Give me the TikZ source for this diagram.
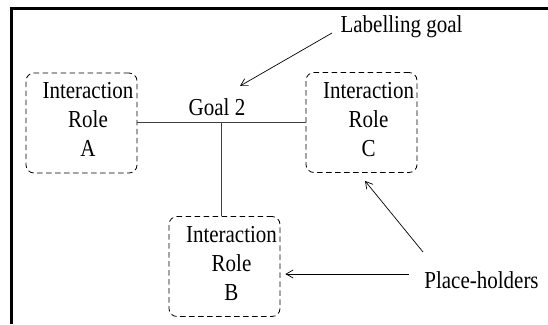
\documentclass[tikz,border=0pt]{standalone}
\usepackage{fontspec}
\usepackage{graphicx}
\setmainfont{Liberation Serif}
\usetikzlibrary{arrows.meta}
\newcommand{\vstretch}[1]{\scalebox{1}[1.16]{#1}}
\newcommand{\rolelines}[1]{\vstretch{\begin{tabular}{@{}c@{}}Interaction\\Role\\#1\end{tabular}}}
\tikzset{
  rolebox/.style={draw, dashed, dash pattern=on 5.5pt off 3.5pt, line width=0.8pt, rounded corners=8pt, minimum width=111pt, minimum height=100pt, inner sep=0pt},
  roletext/.style={align=center, inner sep=0pt, font=\fontsize{21}{25}\selectfont},
  lbl/.style={inner sep=0pt, font=\fontsize{21}{25}\selectfont},
  conn/.style={line width=0.8pt, draw=black!75},
  pointer/.style={line width=0.7pt, -{Straight Barb[length=7pt,width=8pt]}},
}
\begin{document}
\begin{tikzpicture}[x=1pt,y=1pt]
\useasboundingbox (0,0) rectangle (548,324);
% frame
\draw[line width=3pt] (11.3,0) -- (11.3,315.5) -- (548,315.5);
% boxes
\node[rolebox] (A) at (81.5,201) {};
\node[rolebox] (C) at (361.5,201.5) {};
\node[rolebox] (B) at (224.5,57.5) {};
\node[roletext] (tA) at (88,202) {\rolelines{A}};
\node[roletext] (tC) at (368.5,202) {\rolelines{C}};
\node[roletext] (tB) at (231.5,58) {\rolelines{B}};
% goal
\node[lbl] (goal) at (217,217) {\vstretch{Goal 2}};
\coordinate (J) at (221.5,202);
\draw[conn] (A.east |- J) -- (C.west |- J);
\draw[conn] (J) -- (J |- B.north);
% labels
\node[lbl] (lab) at (401.5,297) {\vstretch{Labelling goal}};
\node[lbl] (ph) at (481.5,44) {\vstretch{Place-holders}};
\coordinate (labstart) at (332,291);
\coordinate (labend) at (240,238);
\draw[pointer] (labstart) -- (labend);
\coordinate (ph1) at (409,50);
\draw[pointer] (ph1) -- ([xshift=5pt]B.east |- ph1);
\coordinate (ph2) at (423,72);
\draw[pointer] (ph2) -- ([xshift=3.5pt,yshift=-8pt]C.south);
\end{tikzpicture}
\end{document}
